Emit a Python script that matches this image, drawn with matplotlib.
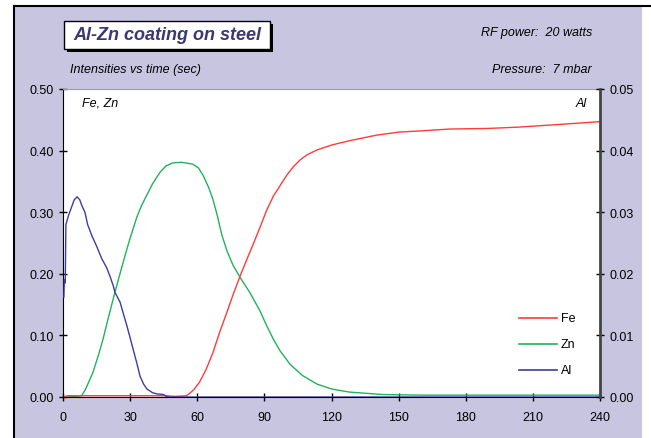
import matplotlib.pyplot as plt
from matplotlib.patches import Rectangle
from matplotlib.lines import Line2D

plt.rcParams['font.family'] = ['Liberation Sans', 'DejaVu Sans']

# Fe and Zn intensities (left axis)
fe_t = [0, 2, 46, 50, 55, 56, 58.5, 61, 64, 67, 70, 73.3, 76, 79, 82, 85, 88, 91, 94,
        97, 100, 103, 106, 109, 113.5, 120, 128, 140, 150, 160, 173, 190, 203, 220, 240]
fe_v = [0, 0.002, 0.002, 0.001, 0.002, 0.004, 0.012, 0.024, 0.045, 0.072, 0.105, 0.138,
        0.166, 0.195, 0.222, 0.248, 0.275, 0.303, 0.326, 0.343, 0.360, 0.374, 0.385,
        0.393, 0.401, 0.409, 0.416, 0.425, 0.430, 0.432, 0.435, 0.436, 0.438, 0.442, 0.447]

zn_t = [0, 5, 8.3, 10, 13.4, 16, 17.9, 20, 23.2, 26, 28, 30, 33, 35, 37.5, 40, 43.4,
        46, 49, 53, 58, 60.5, 62.6, 65, 67, 69, 71, 73.3, 76, 79, 83.6, 88, 91, 94, 97,
        101.5, 107, 113.5, 120, 128, 143, 160, 240]
zn_v = [0, 0.001, 0.002, 0.012, 0.040, 0.070, 0.094, 0.125, 0.170, 0.207, 0.233, 0.258,
        0.292, 0.310, 0.328, 0.346, 0.365, 0.375, 0.380, 0.381, 0.378, 0.372, 0.360,
        0.341, 0.321, 0.294, 0.263, 0.237, 0.214, 0.195, 0.169, 0.140, 0.116, 0.094,
        0.075, 0.053, 0.035, 0.021, 0.013, 0.008, 0.004, 0.003, 0.003]

# Al intensity (right axis)
al_t = [0.4, 0.6, 1.0, 1.3, 2.5, 4, 5, 6.3, 7.5, 8.5, 9.8, 11, 13, 15, 17.4, 19.5, 21,
        22.5, 23.2, 25.5, 27, 28.6, 30, 31.3, 33, 34.4, 36, 37.5, 40, 42, 45, 46, 48, 240]
al_v = [0.0162, 0.019, 0.0185, 0.028, 0.0295, 0.031, 0.032, 0.0325, 0.032, 0.031, 0.030,
        0.028, 0.0261, 0.0245, 0.0224, 0.021, 0.0196, 0.018, 0.017, 0.0154, 0.0135,
        0.0115, 0.0096, 0.0078, 0.0055, 0.0034, 0.0021, 0.0013, 0.0007, 0.0005, 0.0004,
        0.0001, 0, 0]

x_ticks = [0, 30, 60, 90, 120, 150, 180, 210, 240]
left_ticks = [0.0, 0.1, 0.2, 0.3, 0.4, 0.5]
right_ticks = [0.0, 0.01, 0.02, 0.03, 0.04, 0.05]

c_fe = '#ff3b3b'
c_zn = '#1fb35c'
c_al = '#3d3d9e'
lav = '#c8c5e1'

fig = plt.figure(figsize=(6.51, 4.39), dpi=100)
fig.patch.set_facecolor('white')
W, H = 651, 439
fig.patches.append(Rectangle((14 / W, 0), (642 - 14) / W, (H - 7) / H,
                             transform=fig.transFigure, facecolor=lav,
                             edgecolor='none', zorder=-2))
fig.lines.append(Line2D([14 / W, 14 / W], [0, (H - 7) / H], transform=fig.transFigure,
                        color='black', lw=1.5))
fig.lines.append(Line2D([14 / W, 1], [(H - 7) / H, (H - 7) / H], transform=fig.transFigure,
                        color='black', lw=1.5))

ax = fig.add_axes([63 / W, 41 / H, (600 - 63) / W, (398 - 90) / H])
ax.set_facecolor('white')
ax.plot(zn_t, zn_v, color=c_zn, lw=1.0)
ax.plot(fe_t, fe_v, color=c_fe, lw=1.0)
ax.set_xlim(0, 240)
ax.set_ylim(0, 0.5)
ax.set_xticks(x_ticks)
ax.set_yticks(left_ticks)
ax.set_yticklabels(['%.2f' % v for v in left_ticks])
ax.tick_params(direction='inout', length=6, width=1, labelsize=9, colors='black')
ax.tick_params(axis='x', pad=7)
ax.spines['top'].set_color('#a09aa8')
ax.spines['right'].set_visible(False)
ax.spines['left'].set_color('black')
ax.spines['bottom'].set_color('black')

ax2 = ax.twinx()
ax2.plot(al_t, al_v, color=c_al, lw=1.0)
ax2.set_ylim(0, 0.05)
ax2.set_yticks(right_ticks)
ax2.set_yticklabels(['%.2f' % v for v in right_ticks])
ax2.tick_params(direction='inout', length=6, width=1, labelsize=9, colors='black')
ax2.spines['right'].set_color('#444444')
ax2.spines['right'].set_linewidth(2)
ax2.spines['top'].set_visible(False)
ax2.spines['left'].set_visible(False)
ax2.spines['bottom'].set_visible(False)

ax.text(0.035, 0.955, 'Fe, Zn', transform=ax.transAxes, style='italic', fontsize=9,
        va='center', ha='left')
ax.text(0.975, 0.955, 'Al', transform=ax.transAxes, style='italic', fontsize=9,
        va='center', ha='right')

# legend drawn as plain lines and labels
leg_names = ['Fe', 'Zn', 'Al']
leg_colors = [c_fe, c_zn, c_al]
for i, (n, c) in enumerate(zip(leg_names, leg_colors)):
    y = (H - (319 + 26 * i)) / H
    fig.lines.append(Line2D([519 / W, 557 / W], [y, y], transform=fig.transFigure,
                            color=c, lw=1.2))
    fig.text(561 / W, y, n, fontsize=9, va='center', ha='left')

# title box with shadow
fig.patches.append(Rectangle((67 / W, (H - 53) / H), 206 / W, 28 / H,
                             transform=fig.transFigure, facecolor='black',
                             edgecolor='none', zorder=1))
fig.patches.append(Rectangle((64 / W, (H - 50) / H), 206 / W, 28 / H,
                             transform=fig.transFigure, facecolor='white',
                             edgecolor='black', lw=1, zorder=2))
fig.text(167 / W, (H - 36) / H, 'Al-Zn coating on steel', fontsize=13, weight='bold',
         style='italic', color='#3a3875', ha='center', va='center', zorder=3)
fig.text(70 / W, (H - 70) / H, 'Intensities vs time (sec)', fontsize=9, style='italic',
         ha='left', va='center')
fig.text(592 / W, (H - 33) / H, 'RF power:  20 watts', fontsize=9, style='italic',
         ha='right', va='center')
fig.text(592 / W, (H - 70) / H, 'Pressure:  7 mbar', fontsize=9, style='italic',
         ha='right', va='center')

fig.savefig('out.png', dpi=100)
